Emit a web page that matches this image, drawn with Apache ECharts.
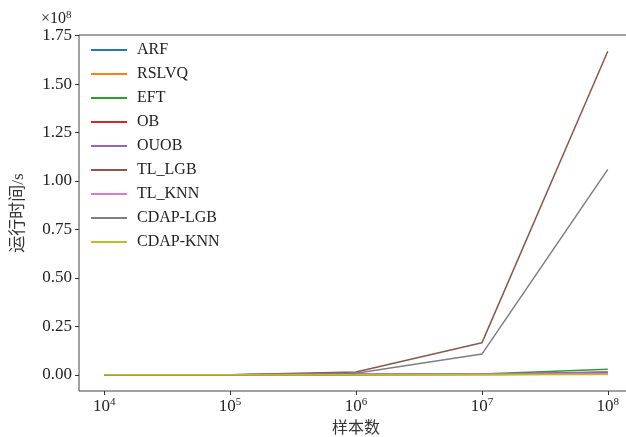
<!doctype html>
<html lang="zh">
<head>
	<meta charset="UTF-8">
	<title>运行时间</title>
	<script src="https://cdn.jsdelivr.net/npm/echarts@6/dist/echarts.min.js"></script>
	<style>
		html, body { margin: 0; padding: 0; width: 100%; height: 100%; background: #fff; }
		#main { width: 626px; height: 437px; }
	</style>
</head>
<body>
	<div id="main"></div>
	<script type="text/javascript">
		// sample sizes (x, log scale)
		var sampleSizes = [1e4, 1e5, 1e6, 1e7, 1e8];
		var xTicks = [1e4, 1e5, 1e6, 1e7, 1e8];
		var yTicks = [0, 0.25e8, 0.5e8, 0.75e8, 1.0e8, 1.25e8, 1.5e8, 1.75e8];

		// run time in seconds
		var ARF = [1e3, 1e4, 1e5, 2e5, 4e5];
		var RSLVQ = [1e3, 1e4, 1e5, 2e5, 3e5];
		var EFT = [1e3, 1e4, 1e5, 4e5, 2.9e6];
		var OB = [1e3, 1e4, 1e5, 3e5, 1.3e6];
		var OUOB = [1e3, 1e4, 1e5, 3e5, 1.4e6];
		var TL_LGB = [2e3, 3e4, 1.5e6, 1.65e7, 1.67e8];
		var TL_KNN = [1e3, 1e4, 1e5, 2e5, 5e5];
		var CDAP_LGB = [2e3, 2e4, 8e5, 1.07e7, 1.06e8];
		var CDAP_KNN = [1e3, 1e4, 5e4, 1e5, 2e5];

		var names = ['ARF', 'RSLVQ', 'EFT', 'OB', 'OUOB', 'TL_LGB', 'TL_KNN', 'CDAP-LGB', 'CDAP-KNN'];
		var values = [ARF, RSLVQ, EFT, OB, OUOB, TL_LGB, TL_KNN, CDAP_LGB, CDAP_KNN];
		var colors = ['#1f77b4', '#ff7f0e', '#2ca02c', '#d62728', '#9467bd', '#8c564b', '#e377c2', '#7f7f7f', '#bcbd22'];

		var font = "'Liberation Serif', 'Noto Sans CJK SC', serif";
		var myChart = echarts.init(document.getElementById('main'));

		var series = names.map(function (n, i) {
			return {
				name: n,
				type: 'line',
				showSymbol: false,
				symbol: 'none',
				lineStyle: { width: 1.5, color: colors[i] },
				itemStyle: { color: colors[i] },
				data: sampleSizes.map(function (x, j) { return [x, values[i][j]]; })
			};
		});

		option = {
			animation: false,
			textStyle: { fontFamily: font },
			title: {
				text: '×10{s|8}',
				left: 36,
				top: 5,
				textStyle: {
					fontFamily: font, fontSize: 16, fontWeight: 'normal', color: '#222',
					rich: { s: { fontFamily: font, fontSize: 11, verticalAlign: 'top', color: '#222', padding: [0, 0, 7, 0] } }
				}
			},
			legend: {
				orient: 'vertical',
				left: 86,
				top: 37,
				itemWidth: 36,
				itemHeight: 2,
				itemGap: 8,
				icon: 'rect',
				data: names,
				textStyle: { fontFamily: font, fontSize: 16, lineHeight: 16, color: '#222', padding: [0, 0, 0, 5] }
			},
			grid: {
				left: 79, top: 35, width: 554, height: 356,
				outerBoundsMode: 'none',
				containLabel: false,
				show: true, borderColor: '#444', borderWidth: 1, backgroundColor: '#fff'
			},
			xAxis: {
				type: 'log',
				min: 6310,
				max: 1.585e8,
				name: '样本数',
				nameLocation: 'middle',
				nameGap: 29,
				nameTextStyle: { fontFamily: font, fontSize: 16, color: '#333' },
				axisLine: { show: false, onZero: false },
				splitLine: { show: false },
				minorTick: { show: false },
				axisTick: { show: true, length: 4, lineStyle: { color: '#333' }, customValues: xTicks },
				axisLabel: {
					customValues: xTicks,
					color: '#222',
					fontFamily: font,
					fontSize: 17,
					margin: 6,
					formatter: function (v) { return '10{sup|' + Math.round(Math.log10(v)) + '}'; },
					rich: { sup: { fontFamily: font, fontSize: 11, verticalAlign: 'top', padding: [0, 0, 9, 0], color: '#222' } }
				}
			},
			yAxis: {
				type: 'value',
				min: -0.0835e8,
				max: 1.7535e8,
				name: '运行时间/s',
				nameLocation: 'middle',
				nameRotate: 90,
				nameGap: 52,
				nameTextStyle: { fontFamily: font, fontSize: 17, color: '#333' },
				axisLine: { show: false, onZero: false },
				splitLine: { show: false },
				axisTick: { show: true, length: 4, lineStyle: { color: '#333' }, customValues: yTicks },
				axisLabel: {
					customValues: yTicks,
					color: '#222',
					fontFamily: font,
					fontSize: 17,
					margin: 7,
					formatter: function (v) { return (v / 1e8).toFixed(2); }
				}
			},
			series: series
		};
		myChart.setOption(option);
	</script>
</body>
</html>
